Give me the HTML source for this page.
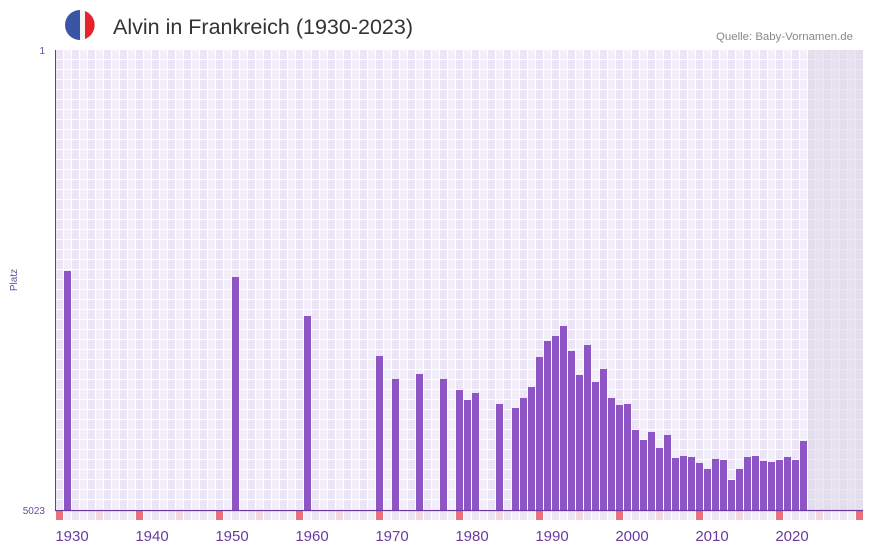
<!DOCTYPE html>
<html><head><meta charset="utf-8"><style>
body{margin:0;background:#fff;width:873px;height:552px;overflow:hidden;font-family:"Liberation Sans",sans-serif}
</style></head><body>
<svg width="873" height="552" xmlns="http://www.w3.org/2000/svg">
<defs>
<pattern id="g" x="56" y="50" width="16" height="10" patternUnits="userSpaceOnUse">
<rect width="16" height="10" fill="#fff"/>
<rect x="0" y="0" width="7" height="9" fill="#ebe5f6"/>
<rect x="8" y="0" width="7" height="9" fill="#f2eefa"/>
</pattern>
<pattern id="s" x="56" y="511" width="16" height="9" patternUnits="userSpaceOnUse">
<rect width="16" height="9" fill="#fff"/>
<rect x="0" width="7" height="9" fill="#ebe5f6"/>
<rect x="8" width="7" height="9" fill="#f2eefa"/>
</pattern>
</defs>
<circle cx="80" cy="25" r="15" fill="#f3f3f3"/>
<path d="M80 10 A15 15 0 0 0 80 40 Z" fill="#3a55a4"/>
<path d="M85 11 A15 15 0 0 1 85 39 Z" fill="#e8202b"/>
<rect x="75" y="11" width="5" height="28" fill="#3a55a4"/>
<rect x="80" y="10" width="5" height="30" fill="#f3f3f3"/>
<text x="113" y="34" font-size="21.5" fill="#333" textLength="300" lengthAdjust="spacingAndGlyphs">Alvin in Frankreich (1930-2023)</text>
<text x="716" y="40" font-size="11" fill="#888" textLength="137" lengthAdjust="spacingAndGlyphs">Quelle: Baby-Vornamen.de</text>
<rect x="56" y="50" width="807" height="460" fill="url(#g)"/>
<rect x="808" y="50" width="55" height="460" fill="#ddd8e6" opacity="0.6"/>
<rect x="56" y="511" width="807" height="9" fill="url(#s)"/>
<g fill="#e8727a">
<rect x="56" y="511" width="7" height="9"/><rect x="136" y="511" width="7" height="9"/><rect x="216" y="511" width="7" height="9"/><rect x="296" y="511" width="7" height="9"/><rect x="376" y="511" width="7" height="9"/><rect x="456" y="511" width="7" height="9"/><rect x="536" y="511" width="7" height="9"/><rect x="616" y="511" width="7" height="9"/><rect x="696" y="511" width="7" height="9"/><rect x="776" y="511" width="7" height="9"/><rect x="856" y="511" width="7" height="9"/>
</g>
<g fill="#f3d6e0">
<rect x="96" y="511" width="7" height="9"/><rect x="176" y="511" width="7" height="9"/><rect x="256" y="511" width="7" height="9"/><rect x="336" y="511" width="7" height="9"/><rect x="416" y="511" width="7" height="9"/><rect x="496" y="511" width="7" height="9"/><rect x="576" y="511" width="7" height="9"/><rect x="656" y="511" width="7" height="9"/><rect x="736" y="511" width="7" height="9"/><rect x="816" y="511" width="7" height="9"/>
</g>
<g fill="#8e55c6" id="bars"></g>
<line x1="55.5" y1="50" x2="55.5" y2="511" stroke="#6a3aa0" stroke-width="1"/>
<line x1="55" y1="510.5" x2="863" y2="510.5" stroke="#6a3aa0" stroke-width="1.2"/>
<text x="45" y="54" font-size="10" fill="#6a4aa0" text-anchor="end">1</text>
<text x="45" y="514" font-size="10" fill="#6a4aa0" text-anchor="end">5023</text>
<text x="17" y="280" font-size="10" fill="#6a4aa0" text-anchor="middle" transform="rotate(-90 17 280)">Platz</text>
<g font-size="15" fill="#6a3aa0" text-anchor="middle">
<text x="72" y="541">1930</text><text x="152" y="541">1940</text><text x="232" y="541">1950</text><text x="312" y="541">1960</text><text x="392" y="541">1970</text><text x="472" y="541">1980</text><text x="552" y="541">1990</text><text x="632" y="541">2000</text><text x="712" y="541">2010</text><text x="792" y="541">2020</text>
</g>
</svg>
<script>
var d={1930:271,1951:277,1960:316,1969:356,1971:379,1974:374,1977:379,1979:390,1980:400,1981:393,1984:404,1986:408,1987:398,1988:387,1989:357,1990:341,1991:336,1992:326,1993:351,1994:375,1995:345,1996:382,1997:369,1998:398,1999:405,2000:404,2001:430,2002:440,2003:432,2004:448,2005:435,2006:458,2007:456,2008:457,2009:463,2010:469,2011:459,2012:460,2013:480,2014:469,2015:457,2016:456,2017:461,2018:462,2019:460,2020:457,2021:460,2022:441};
var g=document.getElementById('bars'),s='';
for(var y in d){var x=55+(y-1929)*8+1;s+='<rect x="'+x+'" y="'+d[y]+'" width="7" height="'+(510-d[y])+'"/>';}
g.innerHTML=s;
</script>
</body></html>
